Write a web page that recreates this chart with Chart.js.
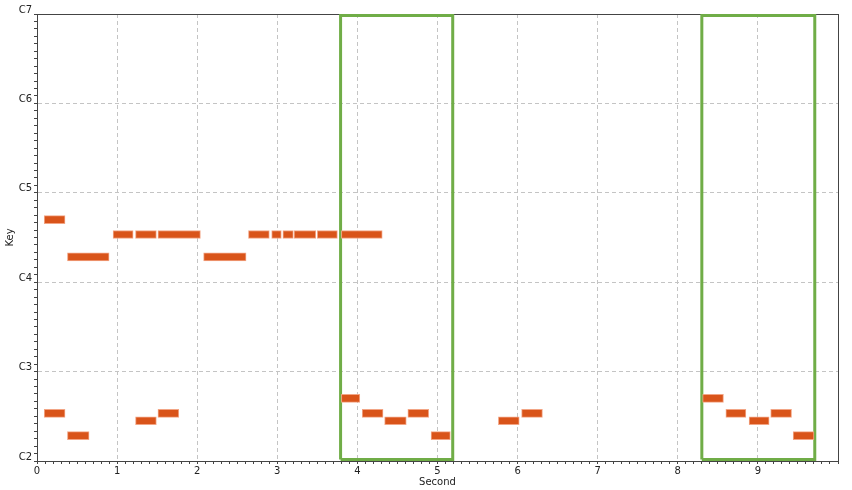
<!DOCTYPE html>
<html>
<head>
<meta charset="utf-8">
<title>Piano roll</title>
<script src="https://cdn.jsdelivr.net/npm/chart.js@4/dist/chart.umd.min.js"></script>
<style>
  html, body { margin: 0; padding: 0; background: #fff; }
  canvas { display: block; }
</style>
</head>
<body>
<canvas id="roll" width="852" height="490"></canvas>
<script>
// notes: onset / offset in seconds, MIDI pitch
const noteStart = [0.09, 0.09, 0.38, 0.38, 0.95, 1.23, 1.23, 1.51, 1.51, 2.08, 2.64, 2.93, 3.07, 3.21,
                   3.50, 3.80, 3.80, 4.06, 4.34, 4.63, 4.92, 5.76, 6.05, 8.31, 8.60, 8.89, 9.16, 9.44];
const noteEnd   = [0.35, 0.35, 0.90, 0.65, 1.20, 1.49, 1.49, 2.04, 1.77, 2.61, 2.90, 3.05, 3.20, 3.48,
                   3.75, 4.31, 4.03, 4.32, 4.61, 4.89, 5.16, 6.02, 6.31, 8.57, 8.85, 9.14, 9.42, 9.70];
const notePitch = [68, 42, 63, 39, 66, 66, 41, 66, 42, 63, 66, 66, 66, 66,
                   66, 66, 44, 42, 41, 42, 39, 41, 42, 44, 42, 41, 42, 39];

// highlighted regions (seconds) and their pitch span
const regionStart = [3.79, 8.30];
const regionEnd   = [5.19, 9.71];
const regionLow = 36.2;
const regionHigh = 95.8;

const pitchMin = 36;   // C2
const pitchMax = 96;   // C7
const timeMax = 10;

const noteNames = ['C', 'C#', 'D', 'D#', 'E', 'F', 'F#', 'G', 'G#', 'A', 'A#', 'B'];

const notes = noteStart.map((s, i) => ({ x: [s, noteEnd[i]], y: notePitch[i] + 0.4 }));

const regionSets = regionStart.map((s, i) => ({
  type: 'line',
  data: [
    { x: s, y: regionLow }, { x: s, y: regionHigh },
    { x: regionEnd[i], y: regionHigh }, { x: regionEnd[i], y: regionLow },
    { x: s, y: regionLow }
  ],
  borderColor: '#70ad47',
  borderWidth: 3,
  pointRadius: 0,
  fill: false,
  tension: 0,
  clip: false
}));

const isWhole = v => Math.abs(v - Math.round(v)) < 1e-6;
const font = { family: 'DejaVu Sans', size: 10 };

new Chart(document.getElementById('roll').getContext('2d'), {
  type: 'bar',
  data: {
    datasets: [
      {
        data: notes,
        backgroundColor: '#d9541a',
        borderColor: '#f2a585',
        borderWidth: 1,
        borderSkipped: false,
        barThickness: 8
      },
      ...regionSets
    ]
  },
  options: {
    responsive: false,
    animation: false,
    indexAxis: 'y',
    layout: { padding: { top: 14, right: 14 } },
    plugins: { legend: { display: false }, tooltip: { enabled: false } },
    scales: {
      x: {
        type: 'linear',
        min: 0,
        max: timeMax,
        afterFit: s => { s.height = 29; },
        ticks: {
          stepSize: 0.1,
          autoSkip: false,
          maxRotation: 0,
          padding: 1,
          color: '#222',
          font: font,
          callback: v => (isWhole(v) && v < timeMax) ? String(Math.round(v)) : ''
        },
        grid: {
          color: c => isWhole(c.tick.value) ? '#c4c4c4' : 'rgba(0,0,0,0)',
          tickColor: '#444',
          tickLength: 3
        },
        border: { color: '#444', dash: [4, 3] },
        title: { display: true, text: 'Second', color: '#222', font: font, padding: { top: 0, bottom: 2 } }
      },
      y: {
        type: 'linear',
        min: pitchMin,
        max: pitchMax,
        offset: false,
        afterFit: s => { s.width = 37; },
        ticks: {
          stepSize: 1,
          autoSkip: false,
          padding: 2,
          labelOffset: -4,
          color: '#222',
          font: font,
          callback: v => (v % 12 === 0) ? noteNames[v % 12] + (v / 12 - 1) : ''
        },
        grid: {
          offset: false,
          color: c => (c.tick.value % 12 === 0) ? '#c4c4c4' : 'rgba(0,0,0,0)',
          tickColor: '#444',
          tickLength: 3
        },
        border: { color: '#444', dash: [4, 3] },
        title: { display: true, text: 'Key', color: '#222', font: font, padding: { top: 4, bottom: 0 } }
      },
      xTop: {
        type: 'linear',
        position: 'top',
        afterFit: s => { s.height = 0; },
        ticks: { display: false },
        grid: { display: false, drawTicks: false },
        border: { color: '#444' }
      },
      yRight: {
        type: 'linear',
        position: 'right',
        afterFit: s => { s.width = 0; },
        ticks: { display: false },
        grid: { display: false, drawTicks: false },
        border: { color: '#444' }
      }
    }
  }
});
</script>
</body>
</html>
